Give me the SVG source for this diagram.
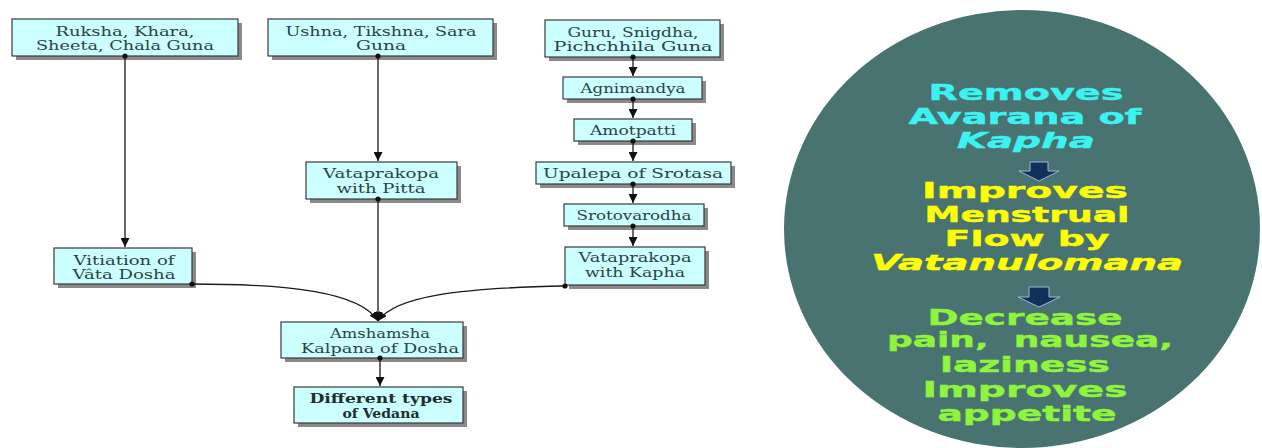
<svg xmlns="http://www.w3.org/2000/svg" width="1262" height="448" viewBox="0 0 1262 448">
<style>
.box rect.b{fill:#ccffff;stroke:#3a3a3a;stroke-width:1.2}
.box rect.s{fill:#8a8a8a}
.box text{font-family:"DejaVu Serif","Liberation Serif",serif;font-size:13.5px;fill:#2a4444;text-anchor:middle}
.box text.bold{font-weight:bold;fill:#1e2e2e}
.conn path{fill:none;stroke:#1a1a1a;stroke-width:1.3}
.conn circle{fill:#111}
.c text{font-family:"DejaVu Sans","Liberation Sans",sans-serif;font-weight:bold;font-size:21px;text-anchor:middle;stroke-width:0.4;white-space:pre}
.cy{fill:#3cf2f2;stroke:#3cf2f2}.ye{fill:#ffff00;stroke:#ffff00}.gr{fill:#8ef53c;stroke:#8ef53c}
.arr{fill:#13305a;stroke:#9db8d8;stroke-width:1}
</style>
<defs>
<marker id="ah" viewBox="0 0 10 10" refX="10" refY="5" markerWidth="9" markerHeight="9" markerUnits="userSpaceOnUse" orient="auto">
<path d="M0,0 L10,5 L0,10 z" fill="#111"/>
</marker>
</defs>
<rect width="1262" height="448" fill="#ffffff"/>

<g id="n-ruksha" class="box">
<rect class="s" x="16" y="23" width="226" height="37"/>
<rect class="b" x="12" y="19" width="226" height="37"/>
<text x="125" y="36" textLength="139" lengthAdjust="spacingAndGlyphs">Ruksha, Khara,</text>
<text x="125" y="50" textLength="178" lengthAdjust="spacingAndGlyphs">Sheeta, Chala Guna</text>
</g>
<g id="n-ushna" class="box">
<rect class="s" x="272" y="23" width="225" height="37"/>
<rect class="b" x="268" y="19" width="225" height="37"/>
<text x="381" y="36" textLength="191" lengthAdjust="spacingAndGlyphs">Ushna, Tikshna, Sara</text>
<text x="381" y="50" textLength="50" lengthAdjust="spacingAndGlyphs">Guna</text>
</g>
<g id="n-guru" class="box">
<rect class="s" x="549" y="24" width="175" height="37"/>
<rect class="b" x="545" y="20" width="175" height="37"/>
<text x="633" y="37" textLength="131" lengthAdjust="spacingAndGlyphs">Guru, Snigdha,</text>
<text x="633" y="51" textLength="159" lengthAdjust="spacingAndGlyphs">Pichchhila Guna</text>
</g>
<g id="n-agni" class="box">
<rect class="s" x="567" y="81" width="139" height="22"/>
<rect class="b" x="563" y="77" width="139" height="22"/>
<text x="633" y="93" textLength="105" lengthAdjust="spacingAndGlyphs">Agnimandya</text>
</g>
<g id="n-amot" class="box">
<rect class="s" x="578" y="123" width="118" height="22"/>
<rect class="b" x="574" y="119" width="118" height="22"/>
<text x="633" y="135" textLength="86" lengthAdjust="spacingAndGlyphs">Amotpatti</text>
</g>
<g id="n-upalepa" class="box">
<rect class="s" x="540" y="166" width="195" height="22"/>
<rect class="b" x="536" y="162" width="195" height="22"/>
<text x="633" y="178" textLength="180" lengthAdjust="spacingAndGlyphs">Upalepa of Srotasa</text>
</g>
<g id="n-sroto" class="box">
<rect class="s" x="568" y="208" width="140" height="22"/>
<rect class="b" x="564" y="204" width="140" height="22"/>
<text x="634" y="220" textLength="115" lengthAdjust="spacingAndGlyphs">Srotovarodha</text>
</g>
<g id="n-kapha" class="box">
<rect class="s" x="569" y="251" width="140" height="38"/>
<rect class="b" x="565" y="247" width="140" height="38"/>
<text x="635" y="262" textLength="113" lengthAdjust="spacingAndGlyphs">Vataprakopa</text>
<text x="635" y="277" textLength="100" lengthAdjust="spacingAndGlyphs">with Kapha</text>
</g>
<g id="n-pitta" class="box">
<rect class="s" x="310" y="166" width="151" height="37"/>
<rect class="b" x="306" y="162" width="151" height="37"/>
<text x="381" y="178" textLength="116" lengthAdjust="spacingAndGlyphs">Vataprakopa</text>
<text x="381" y="193" textLength="89" lengthAdjust="spacingAndGlyphs">with Pitta</text>
</g>
<g id="n-vitiation" class="box">
<rect class="s" x="58" y="252" width="138" height="36"/>
<rect class="b" x="54" y="248" width="138" height="36"/>
<text x="124" y="265" textLength="101" lengthAdjust="spacingAndGlyphs">Vitiation of</text>
<text x="124" y="279" textLength="103" lengthAdjust="spacingAndGlyphs">Vâta Dosha</text>
</g>
<g id="n-amsh" class="box">
<rect class="s" x="285" y="326" width="182" height="36"/>
<rect class="b" x="281" y="322" width="182" height="36"/>
<text x="380" y="338" textLength="100" lengthAdjust="spacingAndGlyphs">Amshamsha</text>
<text x="380" y="353" textLength="158" lengthAdjust="spacingAndGlyphs">Kalpana of Dosha</text>
</g>
<g id="n-vedana" class="box">
<rect class="s" x="298" y="391" width="169" height="36"/>
<rect class="b" x="294" y="387" width="169" height="36"/>
<text class="bold" x="381" y="403" textLength="143" lengthAdjust="spacingAndGlyphs">Different types</text>
<text class="bold" x="381" y="418" textLength="77" lengthAdjust="spacingAndGlyphs">of Vedana</text>
</g>

<g id="connectors" class="conn">
<path d="M125,56 L125,247" marker-end="url(#ah)"/>
<path d="M378,56 L378,161" marker-end="url(#ah)"/>
<path d="M633,57 L633,76" marker-end="url(#ah)"/>
<path d="M633,99 L633,118" marker-end="url(#ah)"/>
<path d="M633,141 L633,161" marker-end="url(#ah)"/>
<path d="M633,184 L633,203" marker-end="url(#ah)"/>
<path d="M633,226 L633,246" marker-end="url(#ah)"/>
<path d="M378,199 L378,321" marker-end="url(#ah)"/>
<path d="M192,284 C290,284 360,292 378,321" marker-end="url(#ah)"/>
<path d="M565,286 C460,288 395,296 378,321" marker-end="url(#ah)"/>
<path d="M380,358 L380,386" marker-end="url(#ah)"/>
<circle cx="125" cy="56" r="2.6"/>
<circle cx="378" cy="56" r="2.6"/>
<circle cx="633" cy="57" r="2.6"/>
<circle cx="633" cy="99" r="2.6"/>
<circle cx="633" cy="141" r="2.6"/>
<circle cx="633" cy="184" r="2.6"/>
<circle cx="633" cy="226" r="2.6"/>
<circle cx="378" cy="199" r="2.6"/>
<circle cx="192" cy="284" r="2.6"/>
<circle cx="565" cy="286" r="2.6"/>
<circle cx="380" cy="358" r="2.6"/>
</g>

<g id="circle-panel" class="c">
<ellipse cx="1022" cy="229" rx="238" ry="219" fill="#487370"/>
<text class="cy" x="1026" y="100" textLength="195" lengthAdjust="spacingAndGlyphs">Removes</text>
<text class="cy" x="1025" y="124" textLength="233" lengthAdjust="spacingAndGlyphs">Avarana of</text>
<text class="cy" x="1026" y="148" font-style="italic" textLength="138" lengthAdjust="spacingAndGlyphs">Kapha</text>
<path class="arr" d="M1030,162 L1048,162 L1048,171 L1059,171 L1039,181 L1019,171 L1030,171 z"/>
<text class="ye" x="1025" y="198" textLength="206" lengthAdjust="spacingAndGlyphs">Improves</text>
<text class="ye" x="1027" y="222" textLength="205" lengthAdjust="spacingAndGlyphs">Menstrual</text>
<text class="ye" x="1027" y="246" textLength="165" lengthAdjust="spacingAndGlyphs">Flow by</text>
<text class="ye" x="1027" y="270" font-style="italic" textLength="312" lengthAdjust="spacingAndGlyphs">Vatanulomana</text>
<path class="arr" d="M1029,287 L1049,287 L1049,297 L1060,297 L1039,307 L1018,297 L1029,297 z"/>
<text class="gr" x="1025" y="325" textLength="195" lengthAdjust="spacingAndGlyphs">Decrease</text>
<text class="gr" x="1030" y="347" textLength="286" lengthAdjust="spacingAndGlyphs" xml:space="preserve">pain,  nausea,</text>
<text class="gr" x="1025" y="372" textLength="170" lengthAdjust="spacingAndGlyphs">laziness</text>
<text class="gr" x="1025" y="397" textLength="205" lengthAdjust="spacingAndGlyphs">Improves</text>
<text class="gr" x="1027" y="421" textLength="179" lengthAdjust="spacingAndGlyphs">appetite</text>
</g>
</svg>
